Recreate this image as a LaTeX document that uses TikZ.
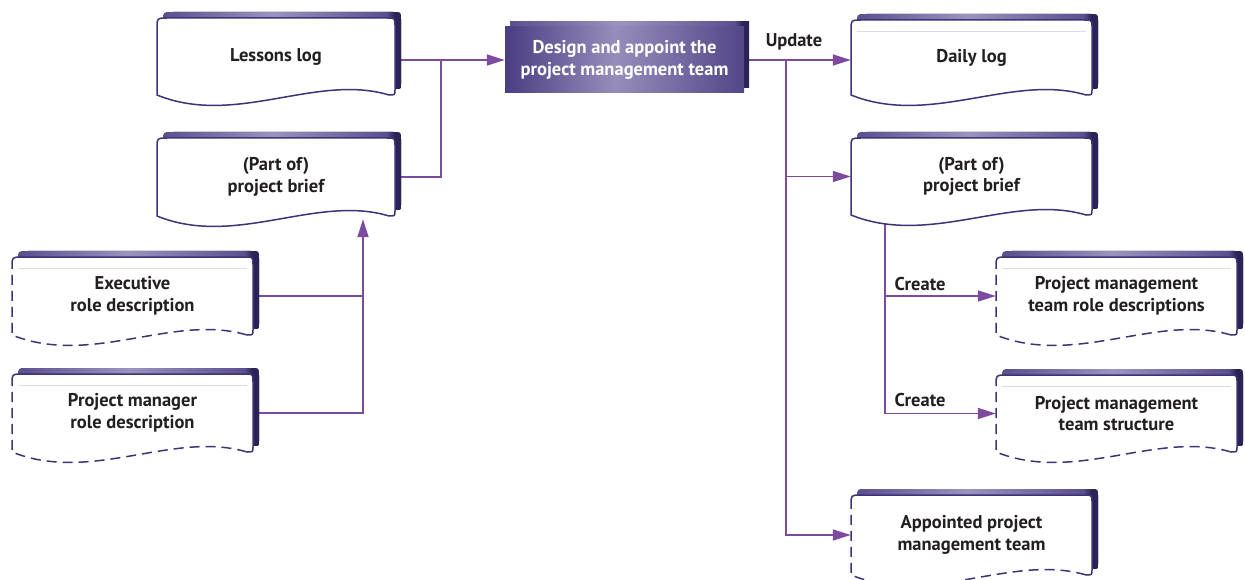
\documentclass[tikz,border=0pt]{standalone}
\usepackage{fontspec}
\setmainfont{PT Sans}
\usetikzlibrary{arrows.meta,backgrounds}
\definecolor{edgec}{HTML}{3E3278}
\definecolor{connc}{HTML}{7E4A9F}
\definecolor{txtc}{HTML}{231F20}
\definecolor{bandA}{HTML}{5B4F8E}
\definecolor{bandB}{HTML}{9B93BF}
\definecolor{bandC}{HTML}{2A2356}
\definecolor{thinc}{HTML}{DCDAE4}
\definecolor{procA}{HTML}{4A3D82}
\definecolor{procB}{HTML}{978DBB}
\definecolor{procC}{HTML}{524688}
\pgfdeclarehorizontalshading{docband}{100bp}{color(0bp)=(bandA); color(25bp)=(bandA); color(48bp)=(bandB); color(72bp)=(bandA); color(73.6bp)=(bandC); color(100bp)=(bandC)}
\pgfdeclarehorizontalshading{procfill}{100bp}{color(0bp)=(procA); color(25bp)=(procA); color(48bp)=(procB); color(75bp)=(procC); color(100bp)=(procC)}
\def\dpath#1#2#3#4{(#1,#4) -- (#1,{#2+10}) .. controls (#1,#2) .. ({#1+10},#2) -- ({#3-8},#2) .. controls (#3,#2) .. (#3,{#2+8}) -- (#3,{#4-5}) .. controls (#3,#4) .. ({#3-6},#4) .. controls ({#1+0.67*(#3-#1)},{#4-22}) and ({#1+0.33*(#3-#1)},{#4+32}) .. (#1,#4) -- cycle}
% #1 name #2 x0 #3 yt #4 x1 #5 yb #6 dashed #7 thin line #8 text
\newcommand\docbox[8]{%
  \begin{scope}[shift={(6,-6)}]\fill[shading=docband] \dpath{#2}{#3}{#4}{#5};\end{scope}
  \fill[white] \dpath{#2}{#3}{#4}{#5};
  \ifnum#7=1 \draw[draw=thinc, line width=0.8pt] ({#2+6},{#3+11}) -- ({#4-6},{#3+11});\fi
  \ifnum#6=1
    \draw[edgeline] (#2,{#3+10}) .. controls (#2,#3) .. ({#2+10},#3) -- ({#4-8},#3) .. controls (#4,#3) .. (#4,{#3+8}) -- (#4,{#5-5}) .. controls (#4,#5) .. ({#4-6},#5);
    \draw[edgeline, dash pattern=on 10pt off 6pt] ({#4-6},#5) .. controls ({#2+0.67*(#4-#2)},{#5-22}) and ({#2+0.33*(#4-#2)},{#5+32}) .. (#2,#5) -- (#2,{#3+10});
  \else
    \draw[edgeline] \dpath{#2}{#3}{#4}{#5};
  \fi
  \node[docnode, minimum width={#4-#2}, minimum height={#5-#3}] (#1) at ({(#2+#4)/2},{(#3+#5)/2}) {#8};
}
\begin{document}
\begin{tikzpicture}[x=1pt,y=-1pt,
  line/.style={draw=connc, line width=1.6pt},
  arr/.style={line, -{Triangle[length=18pt,width=11pt]}},
  docnode/.style={inner sep=0pt, align=center, font=\bfseries\fontsize{18.5}{21.5}\selectfont, text=txtc},
  lbl/.style={inner sep=0pt, font=\bfseries\fontsize{18.5}{21.5}\selectfont, text=txtc},
  edgeline/.style={draw=edgec, line width=1.5pt},
  procnode/.style={inner sep=0pt, align=center, font=\bfseries\fontsize{18.5}{21.5}\selectfont, text=white, shading=procfill}]
\useasboundingbox (0,0) rectangle (1245,580);

% documents
\docbox{lessons}{157}{18}{395}{95}{0}{0}{Lessons log}
\docbox{briefL}{157}{138}{395}{216}{0}{0}{(Part of)\\project brief}
\docbox{exec}{12}{257}{253}{335}{1}{1}{Executive\\role description}
\docbox{pmrole}{12}{374}{253}{452}{1}{1}{Project manager\\role description}
\docbox{daily}{851}{20}{1092}{95}{0}{1}{Daily log}
\docbox{briefR}{851}{138}{1092}{215}{0}{0}{(Part of)\\project brief}
\docbox{pmtrd}{996}{257}{1237}{335}{1}{1}{Project management\\team role descriptions}
\docbox{pmts}{996}{375}{1237}{452}{1}{1}{Project management\\team structure}
\docbox{appointed}{851}{495}{1092}{575}{1}{0}{Appointed project\\management team}

% process box
\fill[shading=docband] (510,22) rectangle (749,88);
\node[procnode, minimum width=239pt, minimum height=66pt] (design) at (624.5,60) {Design and appoint the\\project management team};

% labels
\node[lbl] (upd) at (794,42) {Update};
\node[lbl] (cr1) at (920,284) {Create};
\node[lbl] (cr2) at (920,400) {Create};

% connectors
\begin{scope}[on background layer]
  \coordinate (jL) at (363,298);
  \coordinate (jT) at (441,60);
  \coordinate (jR) at (786,60);
  \coordinate (jB) at (885,0 |- briefR.south);
  \draw[line] (exec.east) -- (exec.east -| jL);
  \draw[line] (pmrole.east) -| (jL);
  \draw[arr, shorten >=3pt] (pmrole.east -| jL) -- (jL |- briefL.south);
  \draw[line] (briefL.east) -| (jT);
  \draw[arr] (lessons.east |- design.west) -- (design.west);
  \draw[arr] (design.east) -- (design.east -| daily.west);
  \draw[arr] (jR) |- (appointed.west);
  \draw[arr] (jR |- briefR.west) -- (briefR.west);
  \draw[arr] (jB) |- (pmts.west);
  \draw[arr] (jB |- pmtrd.west) -- (pmtrd.west);
\end{scope}
\end{tikzpicture}
\end{document}
